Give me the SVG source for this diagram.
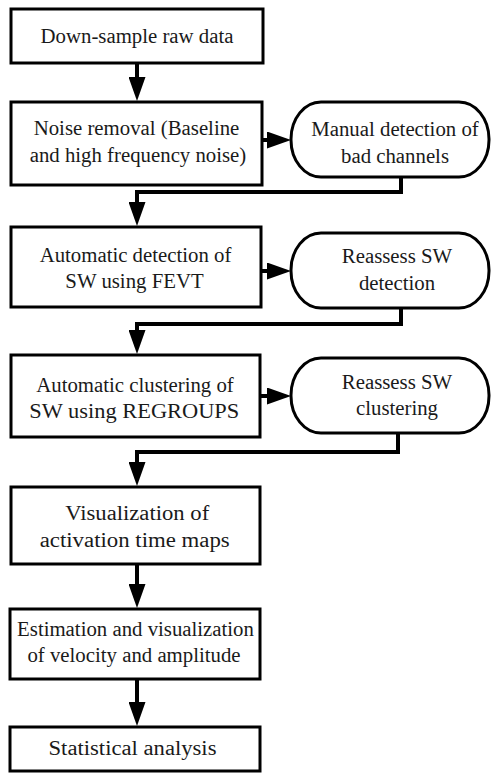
<svg xmlns="http://www.w3.org/2000/svg" width="500" height="773" viewBox="0 0 500 773">
<style>
.box{fill:#fff;stroke:#000;stroke-width:3}
.c{fill:none;stroke:#000;stroke-width:4;marker-end:url(#ah)}
</style>
<defs>
<marker id="ah" markerUnits="userSpaceOnUse" markerWidth="24" markerHeight="17" refX="14" refY="8.5" orient="auto">
<path d="M0,0 L24,8.5 L0,17 z" fill="#000"/>
</marker>
</defs>
<rect width="500" height="773" fill="#fff"/>
<g id="connectors">
<path class="c" d="M137,63 V91"/>
<path class="c" d="M262,140 H281"/>
<path class="c" d="M401,177 V192 H137 V216"/>
<path class="c" d="M261,271 H281"/>
<path class="c" d="M401,308 V324 H137 V344"/>
<path class="c" d="M260,396 H281"/>
<path class="c" d="M398,433 V452 H137 V476"/>
<path class="c" d="M137,564 V598"/>
<path class="c" d="M137,679 V716"/>
</g>
<g font-family="Liberation Serif, serif" font-size="20.8" fill="#1a1a1a" text-anchor="middle">
<g id="n1"><rect class="box" x="11" y="9" width="252" height="54"/><text x="137" y="42.5">Down-sample raw data</text></g>
<g id="n2"><rect class="box" x="11" y="102" width="251" height="83"/><text x="136.5" y="135">Noise removal (Baseline</text><text x="138" y="162">and high frequency noise)</text></g>
<g id="r1"><rect class="box" x="291" y="102" width="198" height="75" rx="30" ry="37"/><text x="395" y="135.5">Manual detection of</text><text x="395" y="162.5">bad channels</text></g>
<g id="n3"><rect class="box" x="11" y="227" width="250" height="80"/><text x="135.5" y="261.5">Automatic detection of</text><text x="134.5" y="288.3">SW using FEVT</text></g>
<g id="r2"><rect class="box" x="291" y="233" width="198" height="75" rx="30" ry="37"/><text x="397" y="263">Reassess SW</text><text x="397" y="290">detection</text></g>
<g id="n4"><rect class="box" x="11" y="355" width="249" height="82"/><text x="135" y="391.5">Automatic clustering of</text><text x="134.3" y="417.5" textLength="210" lengthAdjust="spacingAndGlyphs">SW using REGROUPS</text></g>
<g id="r3"><rect class="box" x="291" y="358" width="198" height="75" rx="30" ry="37"/><text x="397" y="388.5">Reassess SW</text><text x="397" y="415">clustering</text></g>
<g id="n5"><rect class="box" x="11" y="487" width="249" height="77"/><text x="137.2" y="519.5" textLength="144" lengthAdjust="spacingAndGlyphs">Visualization of</text><text x="134.7" y="546.5" textLength="190" lengthAdjust="spacingAndGlyphs">activation time maps</text></g>
<g id="n6"><rect class="box" x="10" y="609" width="250" height="70"/><text x="135.5" y="636">Estimation and visualization</text><text x="134" y="661.5">of velocity and amplitude</text></g>
<g id="n7"><rect class="box" x="10" y="727" width="250" height="44"/><text x="132.5" y="755" textLength="168" lengthAdjust="spacingAndGlyphs">Statistical analysis</text></g>
</g>
</svg>
